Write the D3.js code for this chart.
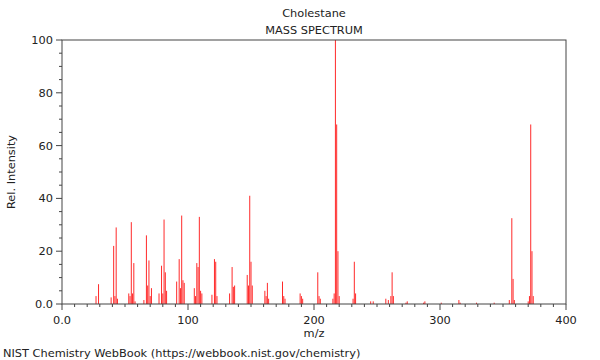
<!DOCTYPE html>
<html>
<head>
<meta charset="utf-8">
<script src="https://cdn.jsdelivr.net/npm/d3@7"></script>
<style>
  body { margin: 0; background: #fff; }
  svg { display: block; font-family: "DejaVu Sans", sans-serif; }
</style>
</head>
<body>
<svg id="chart" width="600" height="360"></svg>
<script>
// m/z values and relative intensities
const mzValues = [27, 29, 39, 41, 42, 43, 44, 53, 54, 55, 56, 57, 58, 65, 67, 68, 69, 70, 71,
  77, 79, 80, 81, 82, 83, 91, 93, 94, 95, 96, 97, 105, 106, 107, 108, 109, 110, 111,
  119, 121, 122, 123, 133, 135, 136, 137, 147, 148, 149, 150, 151, 161, 162, 163, 164,
  175, 176, 177, 189, 190, 191, 203, 204, 205, 215, 216, 217, 218, 219, 220, 231, 232, 233,
  245, 247, 257, 259, 261, 262, 263, 273, 274, 287, 288, 301, 315, 316, 329, 343,
  355, 357, 358, 359, 370, 371, 372, 373, 374];
const intensities = [3, 7.5, 2.5, 22, 3, 29, 2, 4, 3, 31, 4, 15.5, 1, 1.5, 26, 7, 16.5, 3, 6,
  4, 14.5, 4, 32, 12, 5, 8.5, 17, 6, 33.5, 9, 8, 6, 3, 15.5, 14, 33, 5, 4,
  3.5, 17, 16, 3, 4, 14, 6.5, 7, 11, 7, 41, 16, 7, 5, 3, 8, 2,
  8.5, 3, 2, 4, 3, 2, 12, 3, 2, 2, 4, 100, 68, 20, 3, 2, 16, 4,
  1, 1, 2, 1.5, 3, 12, 3, 0.5, 1, 0.5, 1, 0.5, 1.5, 0.5, 0.5, 0.5,
  1.5, 32.5, 9.5, 1.5, 1, 3, 68, 20, 3];
const xTickValues = [0, 100, 200, 300, 400];
const xTickLabels = ["0.0", "100", "200", "300", "400"];
const yTickValues = [0, 20, 40, 60, 80, 100];
const yTickLabels = ["0.0", "20", "40", "60", "80", "100"];
const titleText = "Cholestane";
const subtitleText = "MASS SPECTRUM";
const xLabel = "m/z";
const yLabel = "Rel. Intensity";
const footer = "NIST Chemistry WebBook (https://webbook.nist.gov/chemistry)";

const svg = d3.select("#chart");
const mLeft = 62, mRight = 566, mTop = 40, mBottom = 304;
const x = d3.scaleLinear().domain([0, 400]).range([mLeft, mRight]);
const y = d3.scaleLinear().domain([0, 100]).range([mBottom, mTop]);
const axisColor = "#444";
const textColor = "#222";
const fs = 11.35;

// peaks
const data = mzValues.map((m, i) => ({ mz: m, v: intensities[i] }));
svg.append("g").selectAll("line").data(data).join("line")
  .attr("x1", d => x(d.mz)).attr("x2", d => x(d.mz))
  .attr("y1", y(0)).attr("y2", d => y(d.v))
  .attr("stroke", "#ff2a2a").attr("stroke-width", 1);

// frame
svg.append("rect").attr("x", mLeft).attr("y", mTop)
  .attr("width", mRight - mLeft).attr("height", mBottom - mTop)
  .attr("fill", "none").attr("stroke", axisColor).attr("stroke-width", 1);

// x axis
const xMinor = d3.range(0, 401, 10);
const gx = svg.append("g");
gx.selectAll("line").data(xMinor).join("line")
  .attr("x1", d => x(d)).attr("x2", d => x(d))
  .attr("y1", mBottom).attr("y2", d => mBottom + (d % 100 === 0 ? 6 : 3))
  .attr("stroke", axisColor);
gx.selectAll("text").data(xTickValues).join("text")
  .attr("x", d => x(d)).attr("y", mBottom + 20)
  .attr("text-anchor", "middle").attr("font-size", fs).attr("fill", textColor)
  .text((d, i) => xTickLabels[i]);

// y axis
const yMinor = d3.range(0, 101, 5);
const gy = svg.append("g");
gy.selectAll("line").data(yMinor).join("line")
  .attr("x1", d => mLeft - (d % 20 === 0 ? 6 : 3)).attr("x2", mLeft)
  .attr("y1", d => y(d)).attr("y2", d => y(d))
  .attr("stroke", axisColor);
gy.selectAll("text").data(yTickValues).join("text")
  .attr("x", mLeft - 9).attr("y", d => y(d) + 4)
  .attr("text-anchor", "end").attr("font-size", fs).attr("fill", textColor)
  .text((d, i) => yTickLabels[i]);

// titles
svg.append("text").attr("x", (mLeft + mRight) / 2).attr("y", 17)
  .attr("text-anchor", "middle").attr("font-size", fs).attr("fill", textColor).text(titleText);
svg.append("text").attr("x", (mLeft + mRight) / 2).attr("y", 34)
  .attr("text-anchor", "middle").attr("font-size", fs).attr("fill", textColor).text(subtitleText);
svg.append("text").attr("x", (mLeft + mRight) / 2).attr("y", 337)
  .attr("text-anchor", "middle").attr("font-size", fs).attr("fill", textColor).text(xLabel);
svg.append("text").attr("transform", `translate(15,${(mTop + mBottom) / 2}) rotate(-90)`)
  .attr("text-anchor", "middle").attr("font-size", fs).attr("fill", textColor).text(yLabel);
svg.append("text").attr("x", 3).attr("y", 357)
  .attr("font-size", fs).attr("fill", textColor).text(footer);
</script>
</body>
</html>
